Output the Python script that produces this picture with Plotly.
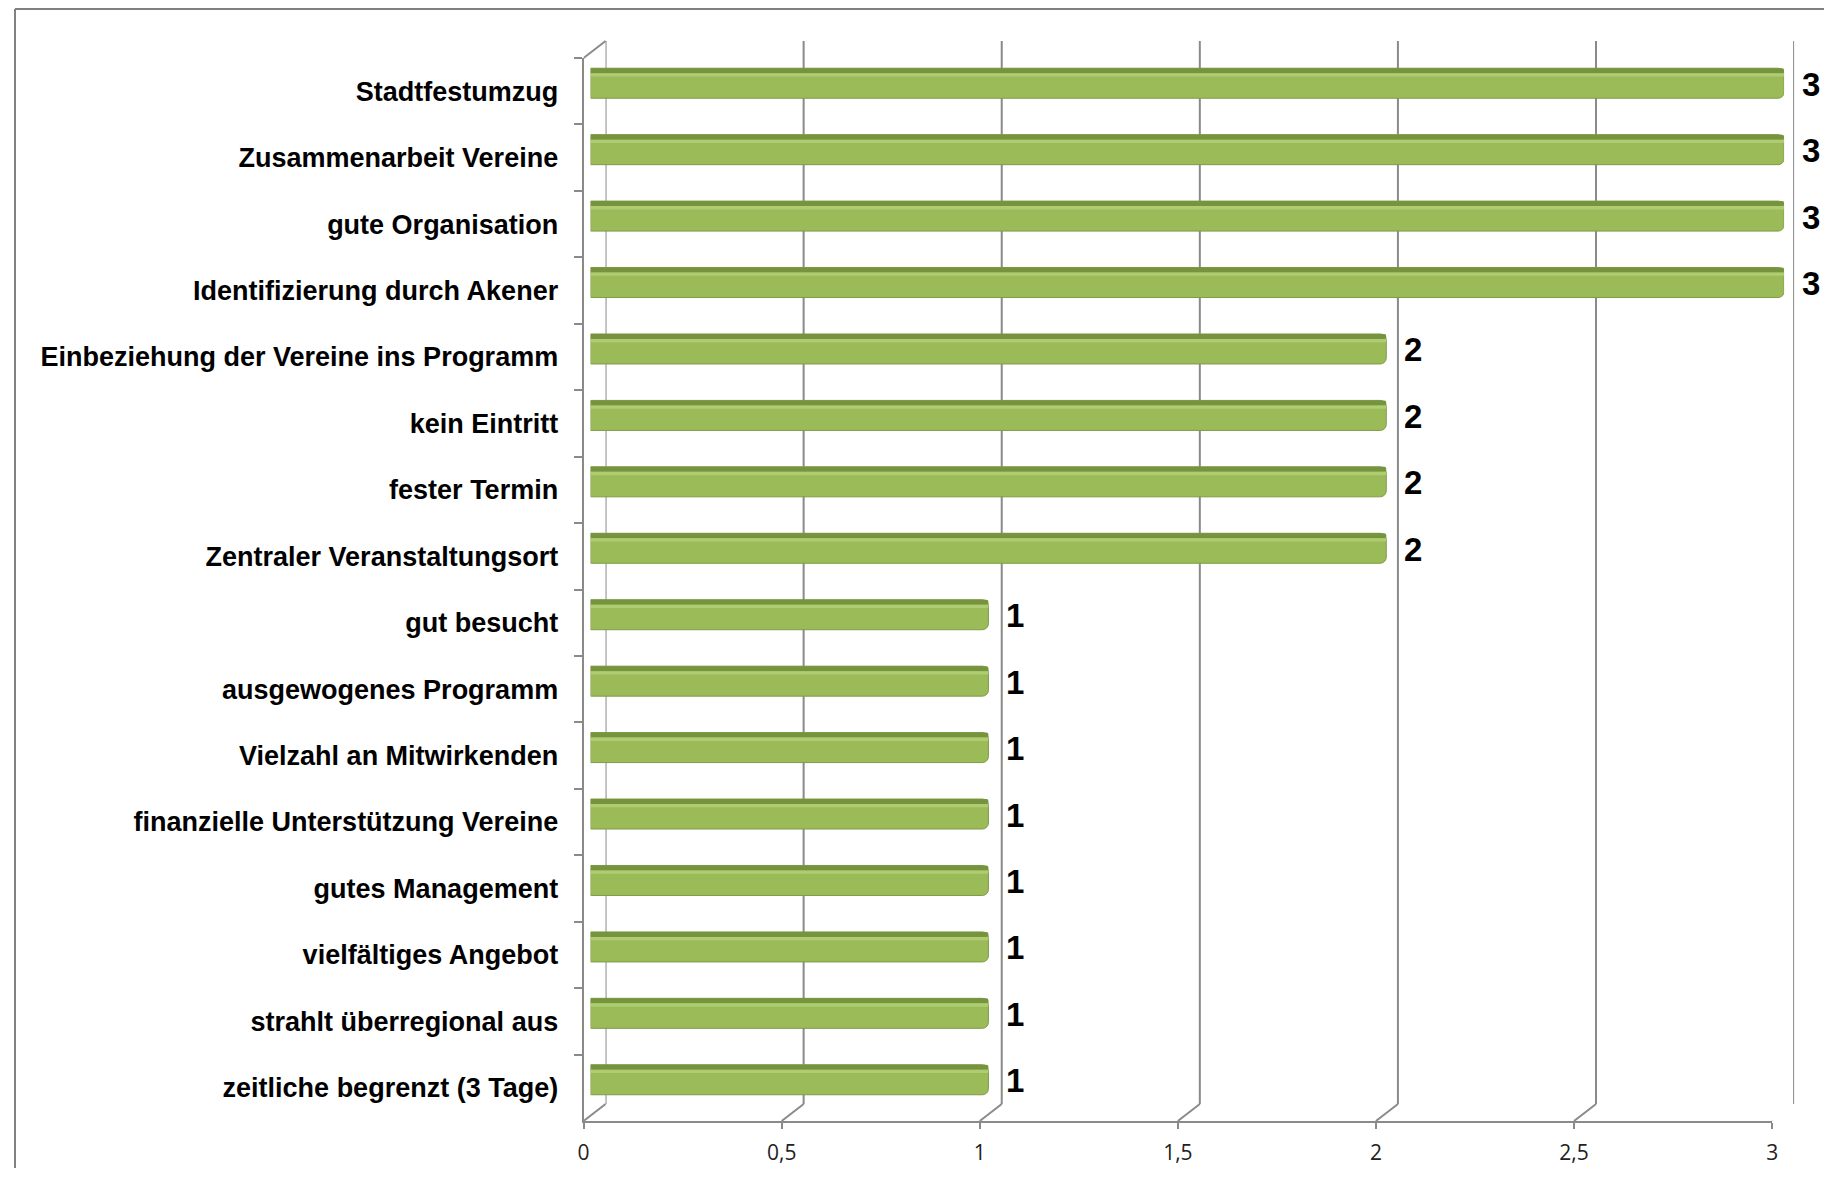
import plotly.graph_objects as go

categories = [
    "Stadtfestumzug",
    "Zusammenarbeit Vereine",
    "gute Organisation",
    "Identifizierung durch Akener",
    "Einbeziehung der Vereine ins Programm",
    "kein Eintritt",
    "fester Termin",
    "Zentraler Veranstaltungsort",
    "gut besucht",
    "ausgewogenes Programm",
    "Vielzahl an Mitwirkenden",
    "finanzielle Unterstützung Vereine",
    "gutes Management",
    "vielfältiges Angebot",
    "strahlt überregional aus",
    "zeitliche begrenzt (3 Tage)",
]
values = [3, 3, 3, 3, 2, 2, 2, 2, 1, 1, 1, 1, 1, 1, 1, 1]
x_ticks = [0, 0.5, 1, 1.5, 2, 2.5, 3]

W, H = 1826, 1160
OFF_Y = 8


def fx(p):
    # page x (as in the reference) -> figure x, measured from the rendered output
    return 1.0054 * p - 10.8


def fy(p):
    return p - OFF_Y


# pseudo-3D box, in reference page pixels
FL, FR, FT, FB = 581, 1771, 58, 1121      # front plane
DX, DY = 22, 17                           # depth of the back wall
BL, BR, MY = 588, 1783, 8                 # plane the bars sit on
GRID = "#8a8a8a"
n = len(categories)
cat_range = [n - 0.5, -0.5]


def dom_x(l, r):
    return [fx(l) / W, fx(r) / W]


def dom_y(t, b):
    return [1 - fy(b) / H, 1 - fy(t) / H]


fig = go.Figure()

bar_w = 30 / ((FB - FT) / n)
fig.add_trace(go.Bar(
    x=values, y=categories, orientation="h", xaxis="x3", yaxis="y3",
    width=bar_w, marker=dict(color="#9BBB59", line=dict(color="#7E9C45", width=1), cornerradius=6),
    hoverinfo="skip", showlegend=False,
))
fig.add_trace(go.Bar(
    x=values, y=categories, orientation="h", xaxis="x3", yaxis="y3",
    width=0.075, offset=-bar_w / 2, marker=dict(color="#76933E", line=dict(width=0), cornerradius=2),
    hoverinfo="skip", showlegend=False,
))
fig.add_trace(go.Bar(
    x=values, y=categories, orientation="h", xaxis="x3", yaxis="y3",
    width=0.05, offset=-bar_w / 2 + 0.075, marker=dict(color="#AFCC72", line=dict(width=0), cornerradius=2),
    hoverinfo="skip", showlegend=False,
))

for v, c in zip(values, categories):
    fig.add_annotation(
        x=v, y=c, xref="x3", yref="y3", text=str(v), showarrow=False,
        xanchor="left", xshift=16, yshift=-1,
        font=dict(family="Arial, Liberation Sans", size=33, color="#000000", weight=700),
    )

shapes = []
# back wall gridlines
for t in x_ticks:
    shapes.append(dict(
        type="line", xref="x", yref="y domain", x0=t, x1=t, y0=0, y1=1, layer="below",
        line=dict(color=GRID, width=2),
    ))
# floor diagonals at each tick
for t in x_ticks:
    shapes.append(dict(
        type="line", xref="x2", xsizemode="pixel", xanchor=t, x0=0, x1=DX,
        yref="paper", y0=1 - fy(FB) / H, y1=1 - fy(FB - DY) / H,
        line=dict(color=GRID, width=2),
    ))
# top edge of the left wall
shapes.append(dict(
    type="line", xref="x2", xsizemode="pixel", xanchor=0, x0=0, x1=DX,
    yref="paper", y0=1 - fy(FT) / H, y1=1 - fy(FT - DY) / H,
    line=dict(color=GRID, width=2),
))
# outer frame (top and left)
shapes.append(dict(type="line", xref="paper", yref="paper", x0=1 / W, x1=1, y0=1 - 1 / H, y1=1 - 1 / H,
                   line=dict(color="#808080", width=2)))
shapes.append(dict(type="line", xref="paper", yref="paper", x0=1 / W, x1=1 / W, y0=0, y1=1 - 1 / H,
                   line=dict(color="#808080", width=2)))

fig.update_layout(
    width=W, height=H,
    margin=dict(l=0, r=0, t=0, b=0),
    paper_bgcolor="white", plot_bgcolor="rgba(0,0,0,0)",
    barmode="overlay",
    separators=",.",
    shapes=shapes,
    # back wall
    xaxis=dict(domain=dom_x(FL + DX, FR + DX), range=[0, 3], anchor="y", visible=False),
    yaxis=dict(domain=dom_y(FT - DY, FB - DY), anchor="x", visible=False, range=[0, 1]),
    # front plane with axes and labels
    xaxis2=dict(domain=dom_x(FL, FR), range=[0, 3], tickvals=x_ticks, anchor="y2",
                showgrid=False, zeroline=False, showline=True, linecolor=GRID, linewidth=2,
                ticks="outside", ticklen=6, tickcolor=GRID, tickwidth=2, ticklabelstandoff=6,
                tickfont=dict(family="Open Sans", size=21, color="#222222")),
    yaxis2=dict(domain=dom_y(FT, FB), anchor="x2", type="category", categoryarray=categories,
                categoryorder="array", range=cat_range, tickson="boundaries",
                showgrid=False, zeroline=False, showline=True, linecolor=GRID, linewidth=2,
                ticks="outside", ticklen=8, tickcolor=GRID, tickwidth=2, ticklabelstandoff=18,
                tickfont=dict(family="Arial, Liberation Sans", size=27, color="#000000", weight=700)),
    # plane the bars are drawn on
    xaxis3=dict(domain=dom_x(BL, BR), range=[0, 3], anchor="y3", visible=False),
    yaxis3=dict(domain=dom_y(FT - MY, FB - MY), anchor="x3", type="category", categoryarray=categories,
                categoryorder="array", range=cat_range, visible=False),
)

# invisible traces so the front and back subplots render
fig.add_trace(go.Scatter(x=[None], y=[categories[0]], xaxis="x2", yaxis="y2", showlegend=False, hoverinfo="skip"))
fig.add_trace(go.Scatter(x=[None], y=[None], xaxis="x", yaxis="y", showlegend=False, hoverinfo="skip"))

fig.write_html("out.html")
